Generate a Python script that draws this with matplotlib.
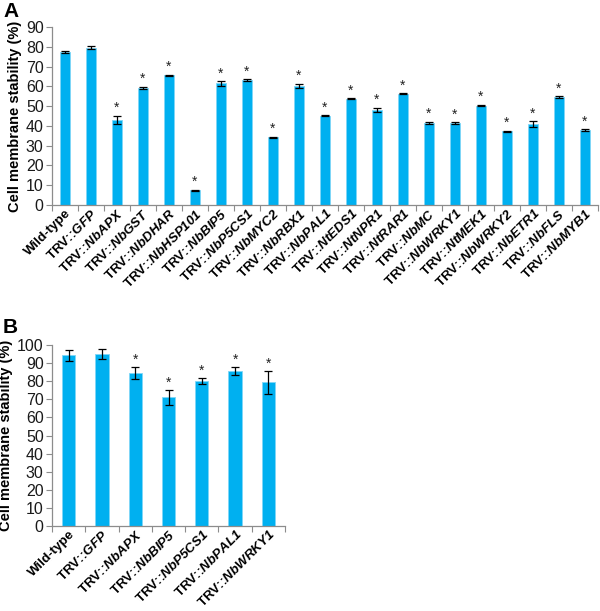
import numpy as np
import matplotlib
matplotlib.use("Agg")
import matplotlib.pyplot as plt

plt.rcParams['font.family'] = ['Liberation Sans', 'DejaVu Sans']
plt.rcParams['mathtext.fontset'] = 'custom'
plt.rcParams['mathtext.rm'] = 'Liberation Sans:bold'
plt.rcParams['mathtext.it'] = 'Liberation Sans:bold:italic'
plt.rcParams['mathtext.bf'] = 'Liberation Sans:bold'
plt.rcParams['mathtext.bfit'] = 'Liberation Sans:bold:italic'

# ---- Panel A data ----
genes_a = ["Wild-type", "GFP", "NbAPX", "NbGST", "NbDHAR", "NbHSP101", "NbBIP5",
           "NbP5CS1", "NbMYC2", "NbRBX1", "NbPAL1", "NtEDS1", "NtNPR1", "NtRAR1",
           "NbMC", "NbWRKY1", "NtMEK1", "NbWRKY2", "NbETR1", "NbFLS", "NbMYB1"]
values_a = [77.4, 79.6, 43.0, 59.3, 65.5, 7.5, 61.5, 63.2, 34.3, 60.3, 45.2,
            53.8, 48.2, 56.3, 41.7, 41.5, 50.3, 37.3, 40.9, 54.6, 37.7]
errors_a = [0.7, 0.7, 2.2, 0.6, 0.3, 0.3, 1.2, 0.3, 0.3, 1.0, 0.3,
            0.2, 1.0, 0.3, 0.5, 0.3, 0.3, 0.3, 1.5, 0.4, 0.5]
signif_a = [False, False] + [True] * 19

# ---- Panel B data ----
genes_b = ["Wild-type", "GFP", "NbAPX", "NbBIP5", "NbP5CS1", "NbPAL1", "NbWRKY1"]
values_b = [94.3, 95.2, 84.4, 71.0, 80.0, 85.7, 79.3]
errors_b = [3.0, 2.7, 3.2, 4.0, 1.5, 2.0, 6.2]
signif_b = [False, False, True, True, True, True, True]

BAR = '#00B0F0'
SPINE = '#8c8c8c'


def make_label(g):
    if g == "Wild-type":
        return "Wild-type"
    return "TRV::$\\mathbfit{" + g + "}$"


def draw(ax, genes, values, errors, signif, ymax, step):
    n = len(genes)
    x = np.arange(n)
    ax.bar(x, values, width=0.4, color=BAR, edgecolor='#7fd6f7', linewidth=0.6, zorder=2)
    ax.errorbar(x, values, yerr=errors, fmt='none', ecolor='black', elinewidth=0.9,
                capsize=3, capthick=0.9, zorder=3)
    for xi, v, e, s in zip(x, values, errors, signif):
        if s:
            ax.text(xi, v + e + ymax * 0.004, '*', ha='center', va='bottom',
                    fontsize=10, color='#222222')
    ax.set_xlim(-0.5, n - 0.5)
    ax.set_ylim(0, ymax)
    ax.set_yticks(np.arange(0, ymax + 1, step))
    ax.tick_params(axis='y', labelsize=11.5, length=4, color=SPINE, direction='out',
                   labelcolor='#1a1a1a', pad=2)
    ax.set_xticks(np.arange(n + 1) - 0.5)
    ax.set_xticklabels([])
    ax.tick_params(axis='x', which='major', length=4, color=SPINE, direction='out')
    ax.set_xticks(x, minor=True)
    ax.set_xticklabels([make_label(g) for g in genes], minor=True, rotation=45,
                       ha='right', rotation_mode='anchor', fontsize=9.6,
                       fontweight='bold')
    ax.tick_params(axis='x', which='minor', length=0, pad=1.5)
    for side in ['top', 'right']:
        ax.spines[side].set_visible(False)
    for side in ['left', 'bottom']:
        ax.spines[side].set_color(SPINE)
        ax.spines[side].set_linewidth(0.9)
    ax.set_ylabel('Cell membrane stability (%)', fontsize=10.5, fontweight='bold',
                  labelpad=3)


fig = plt.figure(figsize=(6.0, 6.11), dpi=100)
axA = fig.add_axes([52 / 600, 1 - 205 / 611, (598 - 52) / 600, (205 - 27) / 611])
axB = fig.add_axes([52 / 600, 1 - 526 / 611, (285 - 52) / 600, (526 - 345) / 611])

draw(axA, genes_a, values_a, errors_a, signif_a, 90, 10)
draw(axB, genes_b, values_b, errors_b, signif_b, 100, 10)

fig.text(3 / 600, 1 - 2 / 611, 'A', fontsize=15, fontweight='bold', va='top', ha='left')
fig.text(3 / 600, 1 - 318 / 611, 'B', fontsize=15, fontweight='bold', va='top', ha='left')

fig.savefig('out.png', dpi=100)
